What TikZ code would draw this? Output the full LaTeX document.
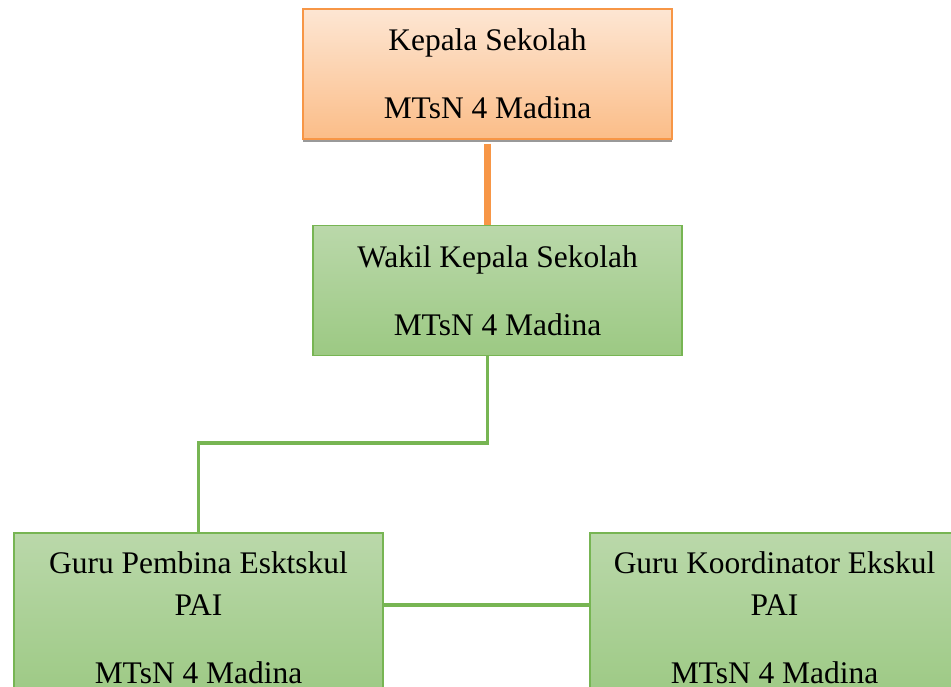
\documentclass[tikz,border=0pt]{standalone}
\usepackage{fontspec}
\setmainfont{Liberation Serif}
\usepackage{tikz}
\usetikzlibrary{positioning, shadows}

\definecolor{orangeline}{HTML}{F79646}
\definecolor{orangetop}{HTML}{FDE6D3}
\definecolor{orangebot}{HTML}{FBBD88}
\definecolor{greenline}{HTML}{77B553}
\definecolor{greentop}{HTML}{BAD8AA}
\definecolor{greenbot}{HTML}{9CC983}

\begin{document}
\begin{tikzpicture}[
    jabatan/.style={rectangle, align=center, minimum width=7.38cm, minimum height=2.6cm,
        inner sep=0pt, font=\fontsize{17.9}{23.9}\selectfont},
    kepalabox/.style={jabatan, draw=orangeline, line width=1pt, top color=orangetop, bottom color=orangebot,
        drop shadow={shadow xshift=0pt, shadow yshift=-1.8pt, fill=black!40, opacity=1}},
    hijaubox/.style={jabatan, draw=greenline, line width=0.8pt, top color=greentop, bottom color=greenbot},
    guru/.style={hijaubox, minimum height=3.38cm},
    link/.style={greenline, line width=2.2pt},
    node distance=1.7cm]
        \useasboundingbox (0,0) rectangle (19.02,-13.74);
        \node[kepalabox] (kepala) at (9.75,-1.48) {Kepala Sekolah\\[15pt] MTsN 4 Madina};
        \node[hijaubox] (wakil) [below = 1.7cm of kepala, xshift=0.2cm] {Wakil Kepala Sekolah\\[15pt] MTsN 4 Madina};
        \node[guru] (pembina) at (3.97,-12.35) {Guru Pembina Esktskul\\ PAI\\[15pt] MTsN 4 Madina};
        \node[guru] (koordinator) at (15.49,-12.35) {Guru Koordinator Ekskul\\ PAI\\[15pt] MTsN 4 Madina};

        \coordinate (belok) at (9.75,-8.86);
        \draw[orangeline, line width=4.5pt] ([yshift=-2.2pt]kepala.south) -- (kepala.south |- wakil.north);
        \draw[link] (wakil.south -| belok) -- (belok) -| (pembina.north);
        \draw[link] ([yshift=0.25cm]pembina.east) -- ([yshift=0.25cm]pembina.east -| koordinator.west);
    \end{tikzpicture}
\end{document}
